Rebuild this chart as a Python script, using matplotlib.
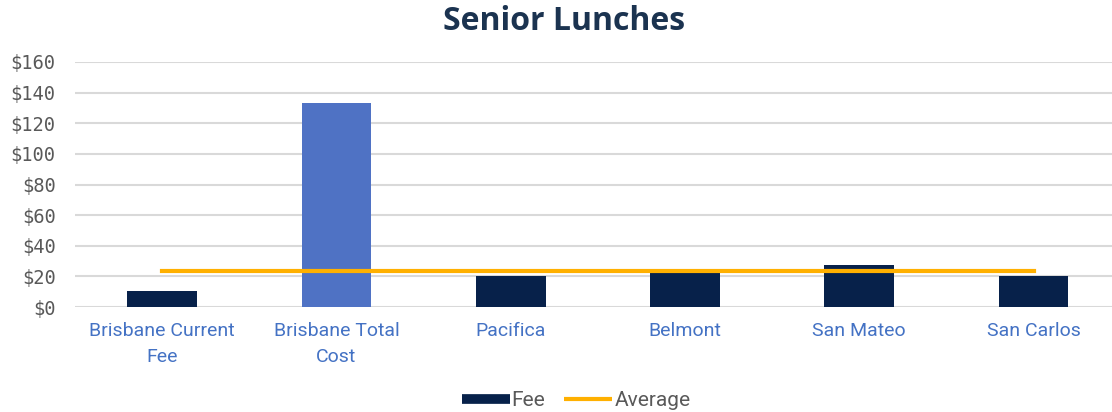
import matplotlib.pyplot as plt
from matplotlib.lines import Line2D

categories = ['Brisbane Current\nFee', 'Brisbane Total\nCost', 'Pacifica',
              'Belmont', 'San Mateo', 'San Carlos']
fees = [10.5, 133, 20.5, 22, 27.5, 20.5]
average = [23.3, 23.3, 23.3, 23.3, 23.3, 23.3]
y_ticks = [0, 20, 40, 60, 80, 100, 120, 140, 160]

navy = '#07214A'
highlight = '#4F72C4'
orange = '#FFB000'
bar_colors = [navy, highlight, navy, navy, navy, navy]

fig = plt.figure(figsize=(11.12, 4.12), dpi=100)
ax = fig.add_axes([75 / 1112, 105 / 412, 1037 / 1112, 245 / 412])

x = list(range(len(categories)))
ax.bar(x, fees, width=0.4, color=bar_colors, zorder=2)
ax.plot(x, average, color=orange, linewidth=3, zorder=3)

ax.set_xlim(-0.5, 5.45)
ax.set_ylim(0, 160)
ax.set_yticks(y_ticks)
ax.set_yticklabels([f'${v}' for v in y_ticks], family='DejaVu Sans Mono',
                   fontsize=13.5, color='#595959')
ax.set_xticks(x)
ax.set_xticklabels(categories, family='Roboto', fontsize=14, color='#4472C4',
                   linespacing=1.55)
ax.tick_params(axis='y', length=0, pad=14)
ax.tick_params(axis='x', length=0, pad=11)
ax.yaxis.grid(True, color='#D9D9D9', linewidth=1.5, zorder=0)
ax.set_axisbelow(True)
for s in ax.spines.values():
    s.set_visible(False)

fig.text(0.507, 0.948, 'Senior Lunches', ha='center', va='center',
         family='Open Sans', fontweight='bold', fontsize=23, color='#1B3350')

handles = [Line2D([], [], color=navy, linewidth=7, solid_capstyle='butt'),
           Line2D([], [], color=orange, linewidth=3, solid_capstyle='butt')]
fig.legend(handles, ['Fee', 'Average'], loc='center', bbox_to_anchor=(0.518, 0.028),
           ncol=2, frameon=False, handlelength=2.3, handletextpad=0.1,
           columnspacing=0.9, prop={'family': 'Roboto', 'size': 15},
           labelcolor='#595959')

fig.savefig('out.png', dpi=100)
